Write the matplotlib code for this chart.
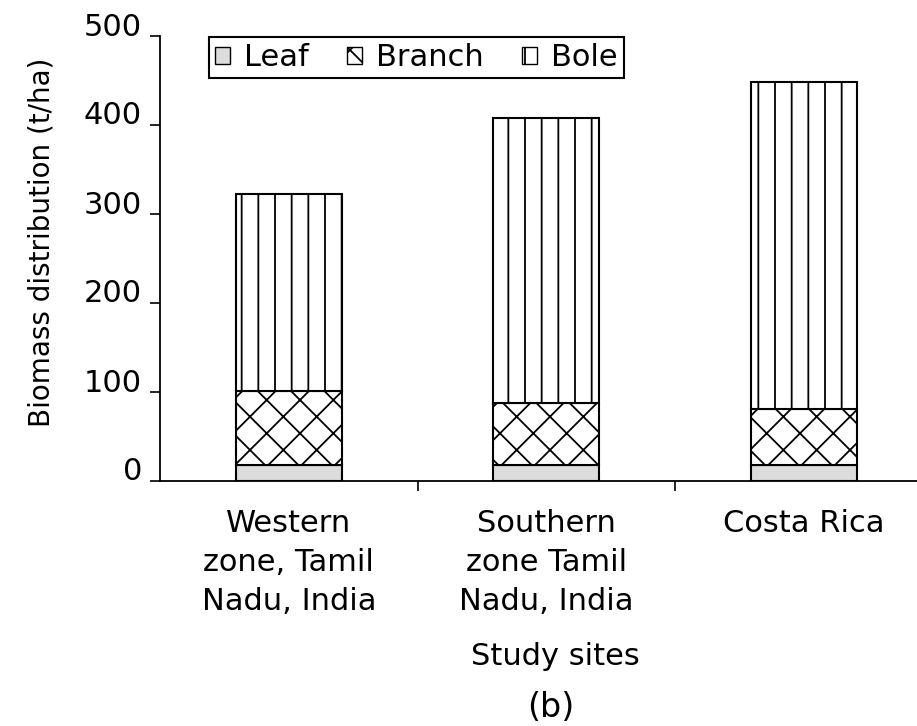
import numpy as np
import matplotlib.pyplot as plt
from matplotlib.patches import Patch
from matplotlib.transforms import ScaledTranslation

# biomass per site (t/ha)
sites = ['Western\nzone, Tamil\nNadu, India', 'Southern\nzone Tamil\nNadu, India', 'Costa Rica']
leaf = [18, 18, 18]
branch = [83, 70, 63]
bole = [222, 320, 367]
yticks = [0, 100, 200, 300, 400, 500]

plt.rcParams['font.family'] = ['DejaVu Sans']
plt.rcParams['hatch.linewidth'] = 1.3

fig = plt.figure(figsize=(9.17, 7.26), dpi=100)
ax = fig.add_axes([160 / 917, 245 / 726, 772.5 / 917, 445 / 726])

x = np.arange(len(sites))
w = 0.41
leaf = np.array(leaf)
branch = np.array(branch)
bole = np.array(bole)

ax.bar(x, leaf, width=w, color='#dcdcdc', edgecolor='black', linewidth=1.5)
ax.bar(x, branch, width=w, bottom=leaf, color='white', edgecolor='black',
       linewidth=1.5, hatch='x')
ax.bar(x, bole, width=w, bottom=leaf + branch, color='white', edgecolor='black',
       linewidth=1.5, hatch='|')

ax.set_xlim(-0.5, 2.5)
ax.set_ylim(0, 500)
ax.spines['top'].set_visible(False)
ax.spines['right'].set_visible(False)
ax.spines['left'].set_linewidth(1.3)
ax.spines['bottom'].set_linewidth(1.3)

ax.set_yticks(yticks)
ax.tick_params(axis='y', direction='out', length=7, width=1.2, labelsize=22, pad=6)
# labels in the original sit a little above their ticks
up = ScaledTranslation(0, 0.12, fig.dpi_scale_trans)
for lab in ax.get_yticklabels():
    lab.set_transform(lab.get_transform() + up)

ax.set_xticks([0.5, 1.5])
ax.set_xticklabels([])
ax.tick_params(axis='x', which='major', direction='out', length=7, width=1.2)
ax.set_xticks(x, sites, minor=True)
ax.tick_params(axis='x', which='minor', length=0, labelsize=22, pad=20)
for lab in ax.get_xticklabels(minor=True):
    lab.set_linespacing(1.45)

ax.set_ylabel('Biomass distribution (t/ha)', fontsize=20)
ax.yaxis.set_label_coords(-0.135, 0.537)

fig.text(555 / 917, 1 - 642 / 726, 'Study sites', ha='center', va='top', fontsize=22)
fig.text(551 / 917, 1 - 691 / 726, '(b)', ha='center', va='top', fontsize=24)

handles = [Patch(facecolor='#dcdcdc', edgecolor='black', label='Leaf'),
           Patch(facecolor='white', edgecolor='black', hatch='x', label='Branch'),
           Patch(facecolor='white', edgecolor='black', hatch='|', label='Bole')]
leg = fig.legend(handles=handles, loc='upper left', ncol=3,
                 bbox_to_anchor=(209 / 917, 1 - 37 / 726), bbox_transform=fig.transFigure,
                 borderaxespad=0, fontsize=22, handlelength=0.5, handleheight=0.5,
                 handletextpad=0.45, columnspacing=1.25, borderpad=0.2,
                 fancybox=False, framealpha=1)
leg.get_frame().set_edgecolor('black')
leg.get_frame().set_linewidth(1.5)

fig.savefig('out.png', dpi=100)
